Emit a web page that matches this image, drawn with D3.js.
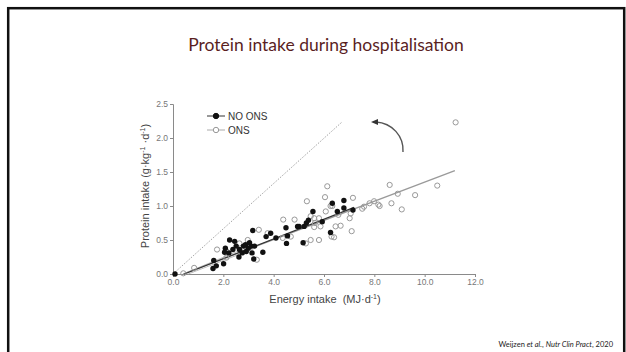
<!DOCTYPE html>
<html>
<head>
<meta charset="utf-8">
<script src="https://cdn.jsdelivr.net/npm/d3@7"></script>
<style>
  body { margin: 0; background: #fff; }
  svg { display: block; }
</style>
</head>
<body>
<div id="chart"></div>
<script>
// energy intake (MJ/d) vs protein intake (g/kg/d)
const noOnsX = [0.08, 1.59, 1.62, 1.72, 2.01, 2.05, 2.08, 2.22, 2.25, 2.38, 2.45, 2.51, 2.62, 2.64, 2.75, 2.80, 2.88, 2.91, 2.99, 3.04, 3.11, 3.14, 3.17, 3.21, 3.24, 3.57, 3.70, 3.88, 4.09, 4.49, 4.51, 4.55, 4.95, 5.01, 5.17, 5.21, 5.30, 5.38, 5.56, 5.93, 6.26, 6.33, 6.53, 6.79, 6.79, 7.15];
const noOnsY = [0.00, 0.08, 0.20, 0.12, 0.15, 0.32, 0.38, 0.31, 0.50, 0.36, 0.48, 0.41, 0.25, 0.36, 0.31, 0.41, 0.43, 0.33, 0.38, 0.46, 0.41, 0.31, 0.64, 0.22, 0.41, 0.32, 0.55, 0.60, 0.53, 0.68, 0.45, 0.56, 0.70, 0.70, 0.46, 0.70, 0.75, 0.79, 0.92, 0.77, 0.61, 1.04, 0.92, 0.97, 1.08, 0.94];

const onsX = [0.41, 0.84, 1.75, 2.12, 2.14, 2.64, 2.97, 3.33, 3.41, 3.76, 4.36, 4.38, 4.68, 4.83, 5.28, 5.32, 5.47, 5.47, 5.61, 5.64, 5.61, 5.80, 5.80, 5.86, 6.04, 6.07, 6.13, 6.26, 6.30, 6.33, 6.40, 6.46, 6.57, 6.66, 7.02, 7.06, 7.10, 7.15, 7.52, 7.59, 7.81, 7.99, 8.16, 8.21, 8.61, 8.68, 8.93, 9.09, 9.62, 10.50, 11.23];
const onsY = [0.01, 0.09, 0.36, 0.24, 0.33, 0.45, 0.50, 0.21, 0.65, 0.60, 0.53, 0.80, 0.55, 0.80, 0.45, 1.07, 0.85, 0.50, 0.82, 0.75, 0.69, 0.82, 0.50, 0.70, 1.13, 0.92, 1.29, 1.00, 0.55, 1.00, 0.54, 0.70, 0.87, 0.71, 0.82, 0.89, 0.63, 1.12, 0.96, 0.99, 1.04, 1.07, 1.02, 1.00, 1.31, 1.04, 1.18, 0.95, 1.16, 1.30, 2.23];

// fitted lines and reference line, as [x, y] end points
const fitNoOns = [[0.45, 0.0], [7.2, 0.98]];
const fitOns = [[0.4, 0.0], [11.2, 1.52]];
const bandOns = [[[0.4, 0.0], [3.2, 0.43]], [[0.6, 0.0], [3.2, 0.37]]];
const refLine = [[0.0, 0.0], [6.7, 2.23]];

const xTicks = [0, 2, 4, 6, 8, 10, 12];
const yTicks = [0, 0.5, 1.0, 1.5, 2.0, 2.5];

const width = 626;
const height = 352;

const svg = d3.select('#chart').append('svg')
  .attr('width', width)
  .attr('height', height);

// slide frame
svg.append('rect')
  .attr('x', 8.2).attr('y', 8.2)
  .attr('width', 616).attr('height', 380)
  .attr('fill', 'none')
  .attr('stroke', '#111')
  .attr('stroke-width', 2.5);

svg.append('text')
  .attr('x', 326).attr('y', 51)
  .attr('text-anchor', 'middle')
  .attr('font-family', 'Lato, "Open Sans", sans-serif')
  .attr('font-size', '17.5px')
  .attr('fill', '#5a1f1f')
  .text('Protein intake during hospitalisation');

const x = d3.scaleLinear().domain([0, 12]).range([173, 475]);
const y = d3.scaleLinear().domain([0, 2.5]).range([274, 104]);

const fmt = d3.format('.1f');

const xAxis = svg.append('g')
  .attr('transform', `translate(0, ${y(0)})`)
  .call(d3.axisBottom(x).tickValues(xTicks).tickFormat(fmt).tickSize(3).tickPadding(2));

const yAxis = svg.append('g')
  .attr('transform', `translate(${x(0)}, 0)`)
  .call(d3.axisLeft(y).tickValues(yTicks).tickFormat(fmt).tickSize(3).tickPadding(2));

[xAxis, yAxis].forEach(a => {
  a.select('.domain').attr('stroke', '#8a8a8a');
  a.selectAll('.tick line').attr('stroke', '#8a8a8a');
  a.selectAll('.tick text')
    .attr('fill', '#777')
    .attr('font-family', 'Arial, "Liberation Sans", sans-serif')
    .attr('font-size', '8.5px');
});

// axis titles
const xt = svg.append('text')
  .attr('x', 325).attr('y', 303)
  .attr('text-anchor', 'middle')
  .attr('font-family', 'Arial, "Liberation Sans", sans-serif')
  .attr('font-size', '11px')
  .attr('fill', '#444');
xt.append('tspan').text('Energy intake\u00a0\u00a0(MJ\u00b7d');
xt.append('tspan').attr('dy', -4).attr('font-size', '7px').text('-1');
xt.append('tspan').attr('dy', 4).text(')');

const yt = svg.append('text')
  .attr('transform', 'translate(149, 186) rotate(-90)')
  .attr('text-anchor', 'middle')
  .attr('font-family', 'Arial, "Liberation Sans", sans-serif')
  .attr('font-size', '11px')
  .attr('fill', '#444');
yt.append('tspan').text('Protein intake (g\u00b7kg');
yt.append('tspan').attr('dy', -4).attr('font-size', '7px').text('-1');
yt.append('tspan').attr('dy', 4).text(' \u00b7d');
yt.append('tspan').attr('dy', -4).attr('font-size', '7px').text('-1');
yt.append('tspan').attr('dy', 4).text(')');

const line = d3.line().x(d => x(d[0])).y(d => y(d[1]));

svg.append('path')
  .attr('d', line(refLine))
  .attr('fill', 'none')
  .attr('stroke', '#999')
  .attr('stroke-width', 0.9)
  .attr('stroke-dasharray', '1.5,1.5');

bandOns.forEach(b => {
  svg.append('path')
    .attr('d', line(b))
    .attr('fill', 'none')
    .attr('stroke', '#aaa')
    .attr('stroke-width', 0.8);
});

svg.append('path')
  .attr('d', line(fitOns))
  .attr('fill', 'none')
  .attr('stroke', '#9a9a9a')
  .attr('stroke-width', 1.3);

svg.append('path')
  .attr('d', line(fitNoOns))
  .attr('fill', 'none')
  .attr('stroke', '#333')
  .attr('stroke-width', 1.2);

const ons = onsX.map((v, i) => [v, onsY[i]]);
const noOns = noOnsX.map((v, i) => [v, noOnsY[i]]);

svg.append('g').selectAll('circle')
  .data(ons)
  .enter().append('circle')
    .attr('cx', d => x(d[0]))
    .attr('cy', d => y(d[1]))
    .attr('r', 2.6)
    .attr('fill', 'none')
    .attr('stroke', '#999')
    .attr('stroke-width', 1);

svg.append('g').selectAll('circle')
  .data(noOns)
  .enter().append('circle')
    .attr('cx', d => x(d[0]))
    .attr('cy', d => y(d[1]))
    .attr('r', 2.7)
    .attr('fill', '#111');

// curved arrow
svg.append('path')
  .attr('d', 'M403,152 C404,136 392,123 376,122')
  .attr('fill', 'none')
  .attr('stroke', '#555')
  .attr('stroke-width', 1.4);
svg.append('path')
  .attr('d', 'M371,122 L378,119 L378,125 Z')
  .attr('fill', '#333');

// legend
const legend = [
  { label: 'NO ONS', fill: '#111', stroke: '#111', line: '#333' },
  { label: 'ONS', fill: '#fff', stroke: '#999', line: '#aaa' }
];
const lg = svg.append('g').selectAll('g')
  .data(legend)
  .enter().append('g')
    .attr('transform', (d, i) => `translate(216, ${116 + i * 14})`);
lg.append('line')
  .attr('x1', -9).attr('x2', 9)
  .attr('stroke', d => d.line)
  .attr('stroke-width', 1);
lg.append('circle')
  .attr('r', 2.7)
  .attr('fill', d => d.fill)
  .attr('stroke', d => d.stroke);
lg.append('text')
  .attr('x', 12).attr('y', 3.5)
  .attr('font-family', 'Arial, "Liberation Sans", sans-serif')
  .attr('font-size', '10px')
  .attr('fill', '#333')
  .text(d => d.label);

// citation
const cite = svg.append('text')
  .attr('x', 613).attr('y', 347)
  .attr('text-anchor', 'end')
  .attr('font-family', 'Lato, sans-serif')
  .attr('font-size', '7.5px')
  .attr('fill', '#222');
cite.append('tspan').text('Weijzen ');
cite.append('tspan').attr('font-style', 'italic').text('et al.');
cite.append('tspan').text(', ');
cite.append('tspan').attr('font-style', 'italic').text('Nutr Clin Pract');
cite.append('tspan').text(', 2020');
</script>
</body>
</html>
